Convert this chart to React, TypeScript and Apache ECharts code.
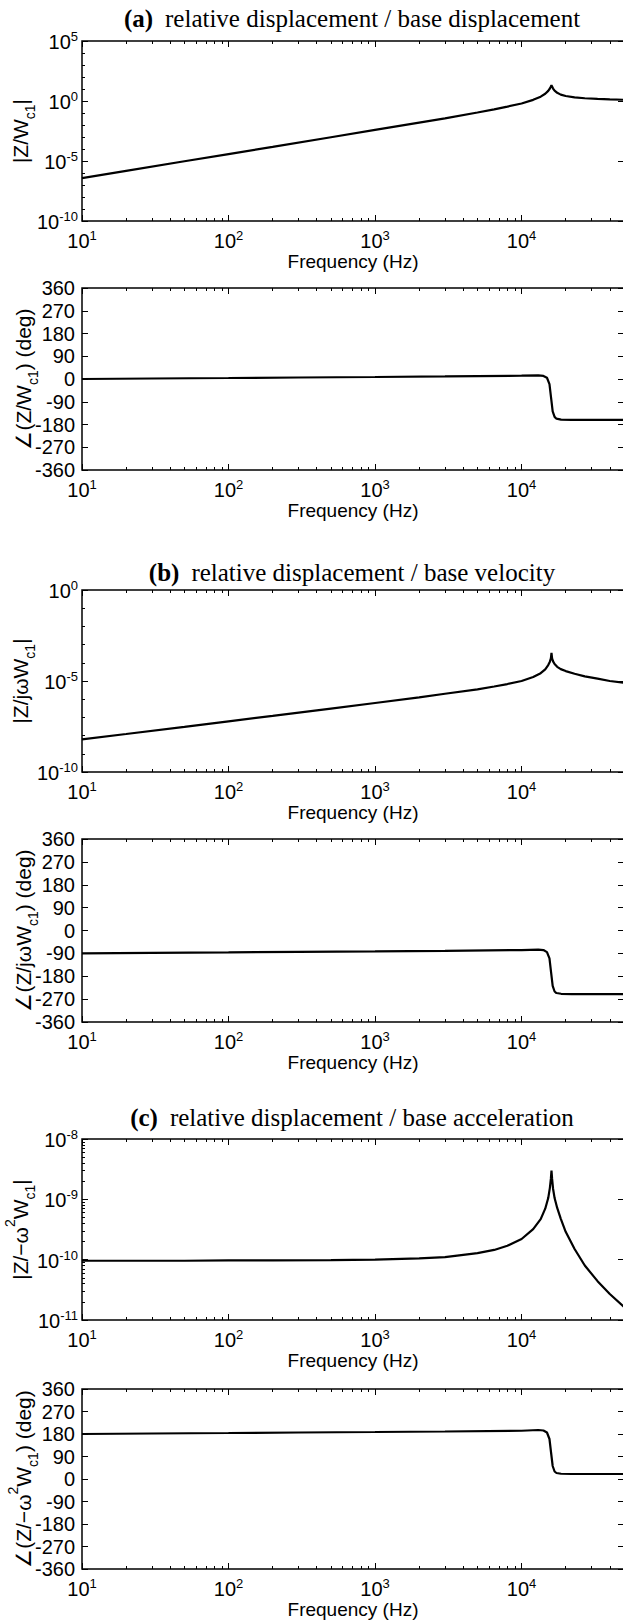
import React, { useEffect, useRef } from "react";
import * as echarts from "echarts";

// ---------- data ----------
const freqMag = [10, 20, 50, 100, 200, 500, 1000, 2000, 3000, 5000, 6500, 8000, 10000, 12000, 13500, 14500, 15200, 15600, 15850, 16000, 16150, 16400, 16800, 17500, 18500, 20000, 23000, 27000, 33000, 40000, 50000];
const magA = [3.8e-7, 1.5e-6, 9.5e-6, 3.8e-5, 1.5e-4, 9.6e-4, 3.9e-3, 1.6e-2, 3.6e-2, 0.11, 0.2, 0.34, 0.62, 1.25, 2.3, 4.0, 7.0, 11, 16, 21, 16, 11, 7.2, 4.8, 3.4, 2.6, 2.0, 1.7, 1.48, 1.35, 1.27];
const magB = [6.2e-9, 1.22e-8, 3.0e-8, 6.1e-8, 1.2e-7, 3.05e-7, 6.2e-7, 1.27e-6, 2.0e-6, 3.5e-6, 5.0e-6, 6.8e-6, 1.0e-5, 1.65e-5, 2.7e-5, 4.4e-5, 7.5e-5, 1.15e-4, 1.75e-4, 3.5e-4, 1.75e-4, 1.2e-4, 8.5e-5, 6.0e-5, 4.5e-5, 3.5e-5, 2.5e-5, 1.8e-5, 1.35e-5, 1.0e-5, 8.0e-6];
const magC = [9.6e-11, 9.6e-11, 9.6e-11, 9.7e-11, 9.7e-11, 9.8e-11, 1.0e-10, 1.05e-10, 1.1e-10, 1.28e-10, 1.45e-10, 1.7e-10, 2.2e-10, 3.2e-10, 4.7e-10, 7.0e-10, 1.05e-9, 1.55e-9, 2.2e-9, 3.0e-9, 2.2e-9, 1.5e-9, 1.05e-9, 7.2e-10, 4.8e-10, 2.9e-10, 1.5e-10, 8.0e-11, 4.4e-11, 2.7e-11, 1.65e-11];

const freqPhase = [10, 30, 100, 300, 1000, 3000, 10000, 13000, 14100, 14900, 15500, 15900, 16300, 16800, 17300, 18600, 22000, 50000];
const phaseA = [0, 2, 4, 6, 8, 10, 13, 14, 12, 5, -20, -75, -128, -150, -157, -161, -162, -162];
const phaseB = [-90, -88, -86, -84, -82, -80, -77, -75, -77, -85, -110, -165, -218, -240, -246, -249, -250, -250];
const phaseC = [180, 182, 184, 186, 188, 190, 193, 196, 194, 186, 160, 105, 52, 30, 24, 21, 20, 20];

const xMajorTicks = [10, 100, 1000, 10000];
const magATicks = [1e-10, 1e-5, 1, 1e5];
const magBTicks = [1e-10, 1e-5, 1];
const magCTicks = [1e-11, 1e-10, 1e-9, 1e-8];

const titles = [
  ["(a)", "relative displacement / base displacement"],
  ["(b)", "relative displacement / base velocity"],
  ["(c)", "relative displacement / base acceleration"],
];

// ---------- tick helpers (axis decorations) ----------
const xMinorTicks: number[] = [];
for (const d of [10, 100, 1000, 10000]) {
  for (let k = 2; k <= 9; k++) if (d * k <= 50000) xMinorTicks.push(d * k);
}
const decadesAB: number[] = [];
for (let e = -10; e <= 5; e++) decadesAB.push(Number(`1e${e}`));
const minorC: number[] = [];
for (let e = -11; e <= -9; e++) for (let k = 2; k <= 9; k++) minorC.push(Number(`${k}e${e}`));

// ---------- layout ----------
const SANS = "'Liberation Sans', Arial, Helvetica, sans-serif";
const SERIF = "'Liberation Serif', 'Times New Roman', serif";
const CW = 630;
const CH = 1620;
const LEFT = 82;
const RIGHT_EDGE = 624;
const grids = [
  { top: 41, height: 180 },
  { top: 288, height: 182 },
  { top: 590, height: 182 },
  { top: 839, height: 183 },
  { top: 1139, height: 181 },
  { top: 1389, height: 180 },
];
const titleY = [18, 572, 1117];

const labelRich = {
  b: { fontFamily: SANS, fontSize: 20, lineHeight: 22, verticalAlign: "bottom", color: "#000" },
  s: { fontFamily: SANS, fontSize: 13, lineHeight: 8, verticalAlign: "top", color: "#000" },
};
const nameRich = {
  n: { fontFamily: SANS, fontSize: 21, lineHeight: 34, verticalAlign: "middle", color: "#000" },
  sub: { fontFamily: SANS, fontSize: 14, lineHeight: 13, verticalAlign: "bottom", color: "#000" },
  sup: { fontFamily: SANS, fontSize: 14, lineHeight: 13, verticalAlign: "top", color: "#000" },
};

function powLabel(v: number) {
  const e = Math.round(Math.log10(v));
  return `{b|10}{s|${e}}`;
}

type Panel = {
  freq: number[];
  vals: number[];
  log: boolean;
  yMin: number;
  yMax: number;
  yMajor?: number[];
  yMinor?: number[];
  name: string;
  nameGap: number;
};

const panels: Panel[] = [
  { freq: freqMag, vals: magA, log: true, yMin: 1e-10, yMax: 1e5, yMajor: magATicks, yMinor: decadesAB, name: "{n||Z/W}{sub|c1}{n||}", nameGap: 45 },
  { freq: freqPhase, vals: phaseA, log: false, yMin: -360, yMax: 360, name: "{n|∠(Z/W}{sub|c1}{n|) (deg)}", nameGap: 42 },
  { freq: freqMag, vals: magB, log: true, yMin: 1e-10, yMax: 1, yMajor: magBTicks, yMinor: decadesAB, name: "{n||Z/jωW}{sub|c1}{n||}", nameGap: 45 },
  { freq: freqPhase, vals: phaseB, log: false, yMin: -360, yMax: 360, name: "{n|∠(Z/jωW}{sub|c1}{n|) (deg)}", nameGap: 42 },
  { freq: freqMag, vals: magC, log: true, yMin: 1e-11, yMax: 1e-8, yMajor: magCTicks, yMinor: minorC, name: "{n||Z/−ω}{sup|2}{n|W}{sub|c1}{n||}", nameGap: 45 },
  { freq: freqPhase, vals: phaseC, log: false, yMin: -360, yMax: 360, name: "{n|∠(Z/−ω}{sup|2}{n|W}{sub|c1}{n|) (deg)}", nameGap: 42 },
];

function buildOption() {
  const gridOpts: any[] = [];
  const xAxes: any[] = [];
  const yAxes: any[] = [];
  const series: any[] = [];
  const tickStyle = { color: "#000", width: 1 };

  panels.forEach((p, i) => {
    gridOpts.push({
      left: LEFT,
      width: RIGHT_EDGE - LEFT,
      top: grids[i].top,
      height: grids[i].height,
      show: true,
      borderColor: "#000",
      borderWidth: 1.5,
      backgroundColor: "transparent",
      containLabel: false,
      outerBoundsMode: "none",
    });
    const xb = {
      type: "log",
      logBase: 10,
      min: 10,
      max: 50000,
      gridIndex: i,
      splitLine: { show: false },
      axisLine: { show: false, onZero: false },
      minorTick: { show: false },
      silent: true,
    };
    xAxes.push({
      ...xb,
      position: "bottom",
      axisTick: { show: true, inside: true, length: 6, customValues: xMajorTicks, lineStyle: tickStyle },
      axisLabel: { show: true, customValues: xMajorTicks, formatter: powLabel, rich: labelRich, margin: 8, color: "#000" },
      name: "Frequency (Hz)",
      nameLocation: "middle",
      nameGap: 31,
      nameMoveOverlap: false,
      nameTextStyle: { fontFamily: SANS, fontSize: 19, lineHeight: 19, color: "#000" },
    });
    xAxes.push({
      ...xb,
      position: "bottom",
      axisTick: { show: true, inside: true, length: 3, customValues: xMinorTicks, lineStyle: tickStyle },
      axisLabel: { show: false },
    });
    xAxes.push({
      ...xb,
      position: "top",
      axisTick: { show: true, inside: true, length: 6, customValues: xMajorTicks, lineStyle: tickStyle },
      axisLabel: { show: false },
    });
    xAxes.push({
      ...xb,
      position: "top",
      axisTick: { show: true, inside: true, length: 3, customValues: xMinorTicks, lineStyle: tickStyle },
      axisLabel: { show: false },
    });

    const yb: any = p.log
      ? { type: "log", logBase: 10, min: p.yMin, max: p.yMax }
      : { type: "value", min: p.yMin, max: p.yMax, interval: 90 };
    yb.gridIndex = i;
    yb.splitLine = { show: false };
    yb.axisLine = { show: false, onZero: false };
    yb.minorTick = { show: false };
    yb.silent = true;

    yAxes.push({
      ...yb,
      position: "left",
      axisTick: p.log
        ? { show: true, inside: true, length: 6, customValues: p.yMajor, lineStyle: tickStyle }
        : { show: true, inside: true, length: 6, lineStyle: tickStyle },
      axisLabel: p.log
        ? { show: true, customValues: p.yMajor, formatter: powLabel, rich: labelRich, margin: 4, color: "#000" }
        : { show: true, margin: 7, color: "#000", fontFamily: SANS, fontSize: 20 },
      name: p.name,
      nameLocation: "middle",
      nameRotate: 90,
      nameGap: p.nameGap,
      nameMoveOverlap: false,
      nameTextStyle: { rich: nameRich, color: "#000" },
    });
    yAxes.push({
      ...yb,
      position: "left",
      axisTick: p.log
        ? { show: true, inside: true, length: 3, customValues: p.yMinor, lineStyle: tickStyle }
        : { show: false },
      axisLabel: { show: false },
    });
    yAxes.push({
      ...yb,
      position: "right",
      axisTick: p.log
        ? { show: true, inside: true, length: 6, customValues: p.yMajor, lineStyle: tickStyle }
        : { show: true, inside: true, length: 6, lineStyle: tickStyle },
      axisLabel: { show: false },
    });

    series.push({
      type: "line",
      xAxisIndex: i * 4,
      yAxisIndex: i * 3,
      data: p.freq.map((f, k) => [f, p.vals[k]]),
      showSymbol: false,
      symbol: "none",
      silent: true,
      z: 3,
      lineStyle: { color: "#000", width: 2.2 },
    });
  });

  const graphics = titles.map((t, i) => ({
    type: "text",
    x: 352,
    y: titleY[i],
    silent: true,
    style: {
      text: `{b|${t[0]}}{r|${t[1]}}`,
      align: "center",
      verticalAlign: "middle",
      fill: "#000",
      rich: {
        b: { fontFamily: SERIF, fontSize: 25, fontWeight: "bold", padding: [0, 12, 0, 0], fill: "#000" },
        r: { fontFamily: SERIF, fontSize: 25, fill: "#000" },
      },
    },
  }));

  return {
    animation: false,
    backgroundColor: "#fff",
    grid: gridOpts,
    xAxis: xAxes,
    yAxis: yAxes,
    series,
    graphic: graphics,
  };
}

export default function App() {
  const ref = useRef<HTMLDivElement>(null);
  useEffect(() => {
    if (!ref.current) return;
    const chart = echarts.init(ref.current, undefined, { renderer: "svg" });
    chart.setOption(buildOption() as any);
    return () => chart.dispose();
  }, []);
  return (
    <div style={{ position: "absolute", left: 0, top: 0, width: 623, height: CH, overflow: "hidden", background: "#fff" }}>
      <div ref={ref} style={{ width: CW, height: CH }} />
    </div>
  );
}
